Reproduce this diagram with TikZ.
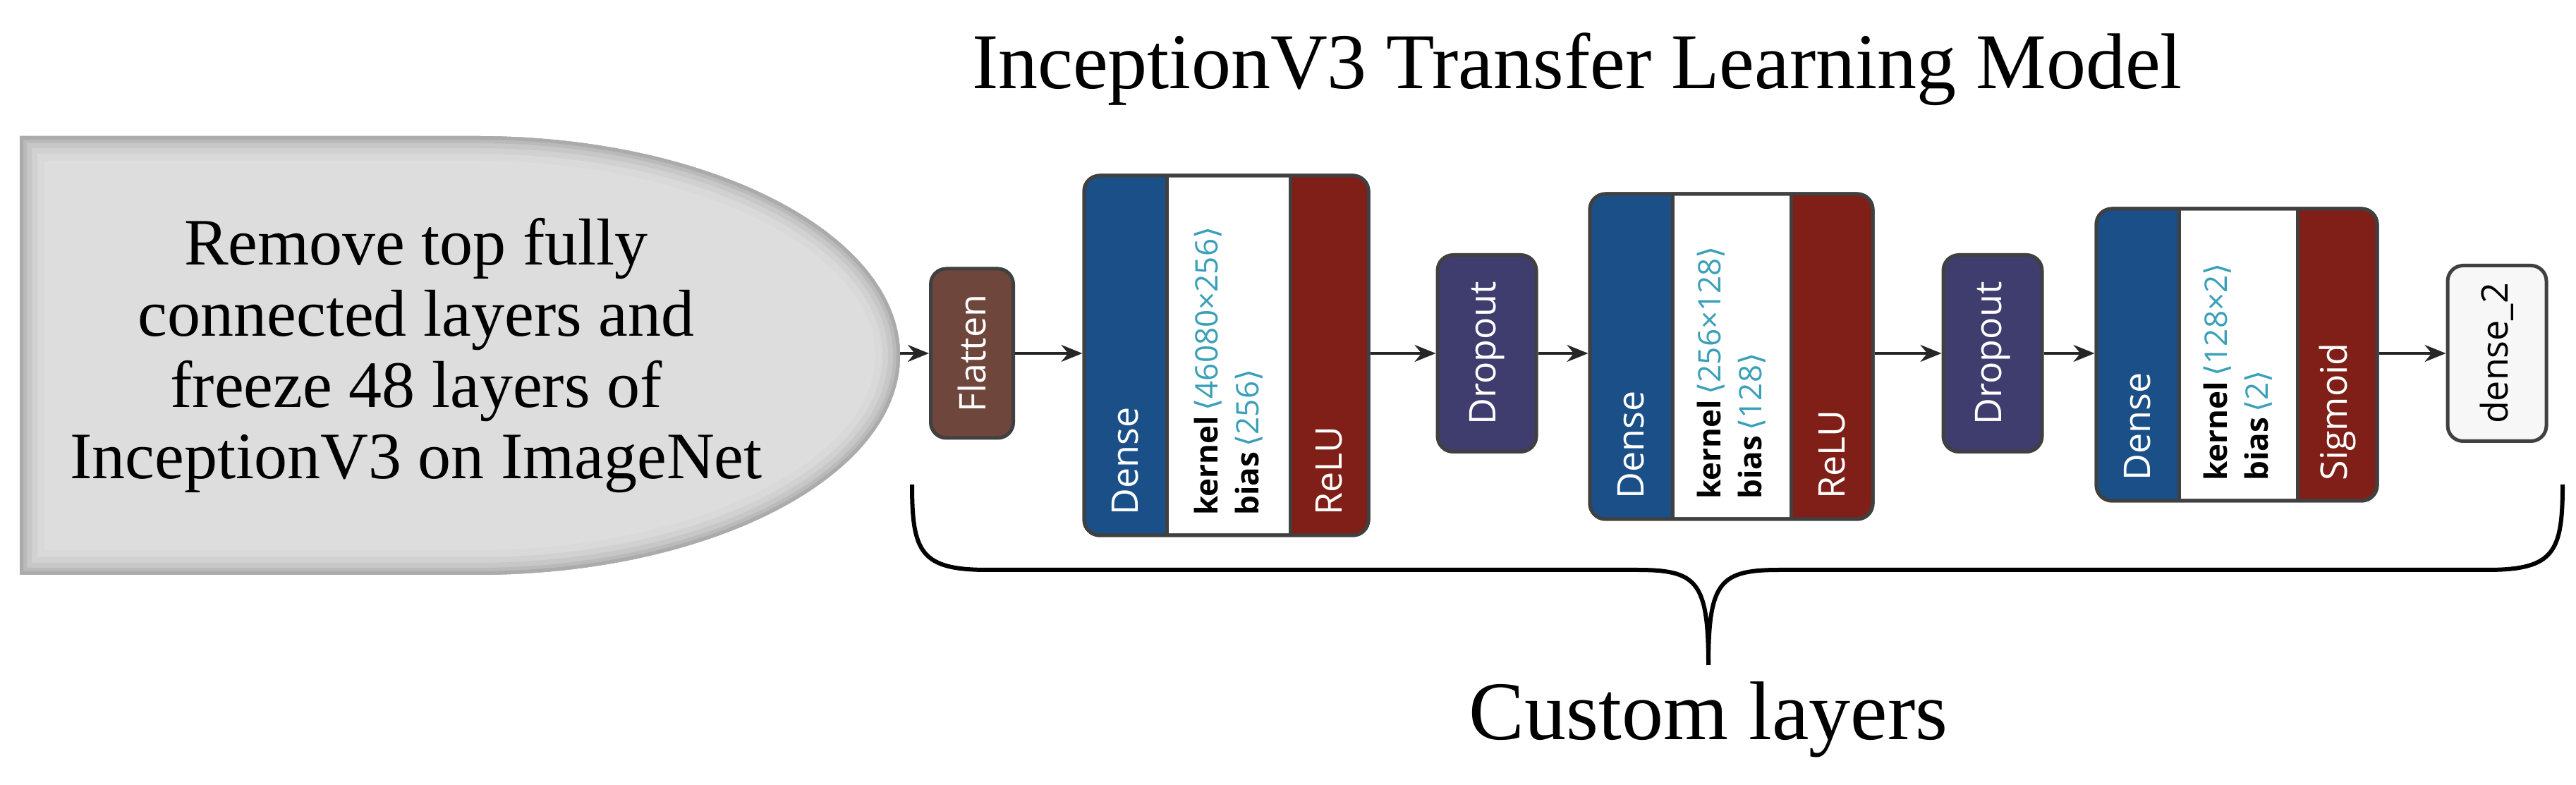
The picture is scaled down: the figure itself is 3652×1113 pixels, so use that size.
\documentclass[tikz,border=0pt]{standalone}
\usepackage{fontspec}
\setmainfont{Liberation Serif}
\newfontfamily\lsans{Open Sans}
\newfontfamily\djv{DejaVu Sans}
\usetikzlibrary{arrows.meta}
\definecolor{dblue}{HTML}{1A4F88}
\definecolor{dred}{HTML}{7F1F17}
\definecolor{fbrown}{HTML}{6E463C}
\definecolor{dpurp}{HTML}{3F3C6E}
\definecolor{numc}{HTML}{3A9FB8}
\tikzset{
  lay/.style={draw=black!75,line width=5pt,rounded corners=22pt,inner sep=0pt},
  conn/.style={line width=4pt,-{Stealth[length=30pt,width=24pt]},black!85},
  ltxt/.style={font=\lsans\fontsize{52}{60}\selectfont,text=white,rotate=90},
}
\newcommand{\ab}[1]{\textcolor{numc}{\,{\djv\symbol{"27E8}}#1{\djv\symbol{"27E9}}}}
\newcommand{\denseblock}[9]{%
  \node[lay,minimum width={(#5-#2)*1pt},minimum height={(#7-#6)*1pt},fill=white] (#1) at ({(#2+#5)/2},{(#6+#7)/2}) {};
  \begin{scope}
    \clip[rounded corners=22pt] (#2,#6) rectangle (#5,#7);
    \fill[dblue] (#2,#6) rectangle (#3,#7);
    \fill[dred] (#4,#6) rectangle (#5,#7);
  \end{scope}
  \draw[black!75,line width=5pt] (#3,#6) -- (#3,#7) (#4,#6) -- (#4,#7);
  \node[lay,minimum width={(#5-#2)*1pt},minimum height={(#7-#6)*1pt}] at (#1) {};
  \node[ltxt,anchor=west] at ({(#2+#3)/2},{#6+25}) {Dense};
  \node[ltxt,anchor=west] at ({(#4+#5)/2},{#6+25}) {\actname};
  \node[rotate=90,anchor=west,align=left,font=\lsans\fontsize{44}{58}\selectfont] at ({(#3+#4)/2},{#6+25})
    {\textbf{kernel}\ab{#8}\\\textbf{bias}\ab{#9}};
}
\begin{document}
\begin{tikzpicture}[x=1pt,y=1pt]
\useasboundingbox (0,0) rectangle (3652,1113);
% left shape
\def\lpath{(28,920) -- (676,920) arc[start angle=90,end angle=-90,x radius=600,y radius=311] -- (28,298) -- cycle}
\fill[gray!27] \lpath;
\begin{scope}
\clip \lpath;
\foreach \w/\c in {70/gray!30,50/gray!36,34/gray!44,20/gray!54,10/gray!66}{
 \draw[line width=\w pt,\c] \lpath;}
\end{scope}
\node[align=center,font=\fontsize{94}{101}\selectfont] (src) at (590,609)
 {Remove top fully\\connected layers and\\freeze 48 layers of\\InceptionV3 on ImageNet};
\coordinate (srcE) at (1276,612);
% title
\node[font=\fontsize{112}{130}\selectfont] (title) at (2236,1015) {InceptionV3 Transfer Learning Model};
% layers
\node[lay,fill=fbrown,minimum width=117pt,minimum height=240pt] (fl) at (1378,612) {};
\node[ltxt] at (fl) {Flatten};
\def\actname{ReLU}
\denseblock{d1}{1537}{1654}{1829}{1940}{354}{864}{46080×256}{256}
\node[lay,fill=dpurp,minimum width=140pt,minimum height=279pt] (dr1) at (2108,612) {};
\node[ltxt] at (dr1) {Dropout};
\denseblock{d2}{2254}{2371}{2539}{2655}{377}{838}{256×128}{128}
\node[lay,fill=dpurp,minimum width=140pt,minimum height=279pt] (dr2) at (2825,612) {};
\node[ltxt] at (dr2) {Dropout};
\def\actname{Sigmoid}
\denseblock{d3}{2972}{3089}{3257}{3370}{403}{817}{128×2}{2}
\node[lay,fill=gray!6,minimum width=140pt,minimum height=249pt] (out) at (3540,612) {};
\node[ltxt,text=black] at (out) {dense\_2};
% connectors
\draw[conn] (srcE) -- (fl.west);
\draw[conn] (fl.east) -- (fl.east-|d1.west);
\draw[conn] (d1.east|-dr1) -- (dr1.west);
\draw[conn] (dr1.east) -- (dr1.east-|d2.west);
\draw[conn] (d2.east|-dr2) -- (dr2.west);
\draw[conn] (dr2.east) -- (dr2.east-|d3.west);
\draw[conn] (d3.east|-out) -- (out.west);
% brace
\coordinate (bl) at (1293,426); \coordinate (br) at (3633,426); \coordinate (bt) at (2422,170);
\draw[line width=6pt] (bl) .. controls (1293,330) and (1305,305) .. (1400,305) -- (2320,305)
  .. controls (2405,305) and (2422,290) .. (bt);
\draw[line width=6pt] (br) .. controls (3633,330) and (3621,305) .. (3526,305) -- (2524,305)
  .. controls (2439,305) and (2422,290) .. (bt);
\node[font=\fontsize{118}{130}\selectfont] (cl) at (2422,93) {Custom layers};
\end{tikzpicture}
\end{document}
